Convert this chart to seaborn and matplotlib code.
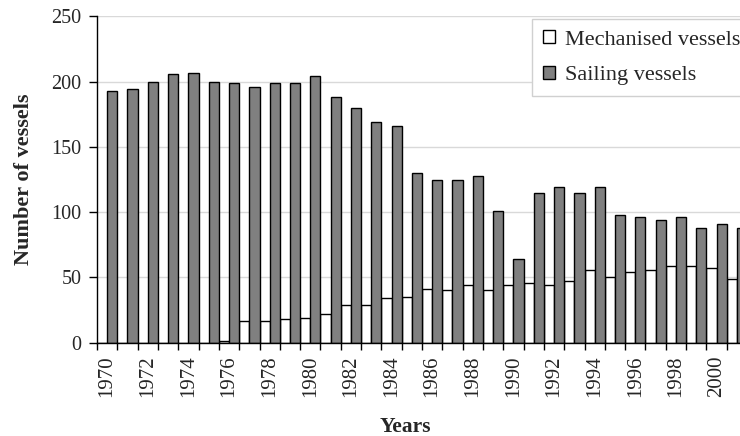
import pandas as pd
import matplotlib.pyplot as plt
import seaborn as sns
import numpy as np
from matplotlib.patches import Patch

# valeurs
years = list(range(1970, 2002))
mechanised = [0, 0, 0, 0, 0, 0, 1, 17, 17, 18, 19, 22, 29, 29, 34,
              35, 41, 40, 44, 40, 44, 46, 44, 47, 56, 50, 54, 56, 59, 59, 57, 49]
sailing = [193, 194, 200, 206, 207, 200, 199, 196, 199, 199, 204, 188, 180, 169, 166,
           130, 125, 125, 128, 101, 64, 115, 119, 115, 119, 98, 96, 94, 96, 88, 91, 88]
series = ['Mechanised vessels', 'Sailing vessels']
colors = ['white', '#808080']

df = pd.DataFrame({
    'Year': [str(y) for y in years] * 2,
    'Vessels': mechanised + sailing,
    'Type': [series[0]] * len(years) + [series[1]] * len(years),
})

sns.set_style('white')
plt.rcParams['font.family'] = ['Liberation Serif', 'DejaVu Serif']

fig = plt.figure(figsize=(7.4, 4.36), dpi=100)
ax = fig.add_axes([97 / 740, 1 - 342.7 / 436, 650 / 740, (342.7 - 16.4) / 436])

sns.barplot(data=df, x='Year', y='Vessels', hue='Type', hue_order=series,
            palette=colors, saturation=1, width=1.0, edgecolor='black',
            linewidth=1.0, legend=False, ax=ax)

ax.set_xlim(-0.5, len(years) - 0.5)
ax.set_ylim(0, 250)
ax.set_yticks(range(0, 251, 50))
ax.yaxis.grid(True, color='#d9d9d9', linewidth=1)
ax.set_axisbelow(True)

# ticks aux limites des catégories, étiquettes une année sur deux
ax.set_xticks(range(0, len(years), 2))
ax.set_xticklabels([str(y) for y in years[::2]], rotation=90, fontsize=15)
ax.set_xticks(np.arange(-0.5, len(years), 1), minor=True)
ax.tick_params(axis='x', which='major', length=0, pad=9)
ax.tick_params(axis='x', which='minor', length=5, width=1, color='black', direction='out')
ax.tick_params(axis='y', length=6, width=1, color='black', direction='out', labelsize=14.5, pad=5)
ax.tick_params(left=True, bottom=True, which='both')

for s in ['top', 'right']:
    ax.spines[s].set_visible(False)
for s in ['left', 'bottom']:
    ax.spines[s].set_color('black')
    ax.spines[s].set_linewidth(1)

ax.set_xlabel('Years', fontweight='bold', fontsize=15.5)
ax.set_ylabel('Number of vessels', fontweight='bold', fontsize=16)
ax.xaxis.set_label_coords(0.474, -0.228)
ax.yaxis.set_label_coords(-0.097, 0.5)

handles = [Patch(facecolor=c, edgecolor='black', linewidth=1) for c in colors]
leg = ax.legend(handles, series, loc='upper left',
                bbox_to_anchor=(532 / 740, 1 - 19 / 436), bbox_transform=fig.transFigure,
                frameon=True, fancybox=False, framealpha=1, edgecolor='#d0d0d0',
                fontsize=16, handlelength=0.55, handleheight=0.55, handletextpad=0.45,
                labelspacing=0.72, borderpad=0.5, borderaxespad=0)
leg.get_frame().set_linewidth(1)

fig.savefig('out.png', dpi=100)
